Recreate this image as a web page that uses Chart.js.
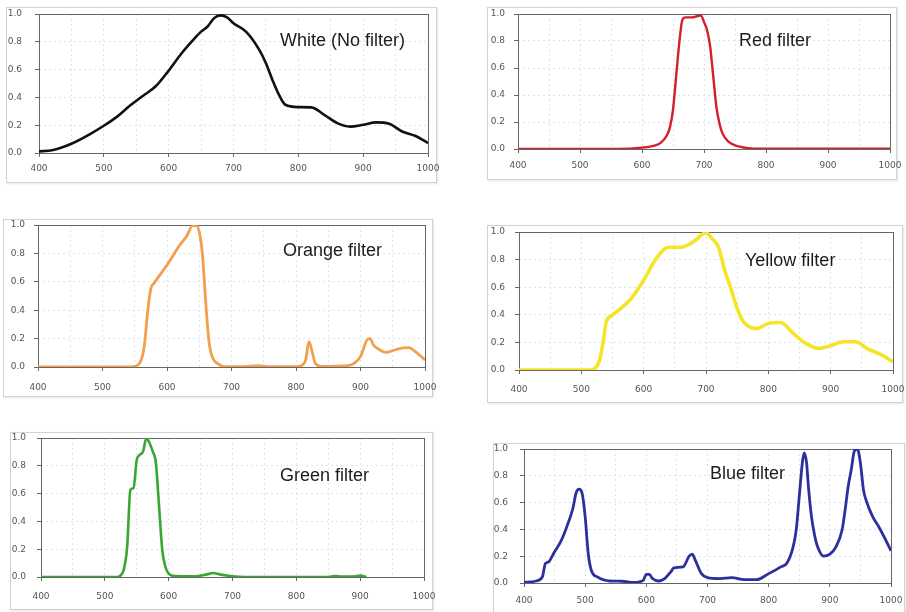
<!DOCTYPE html>
<html>
<head>
<meta charset="utf-8">
<script src="https://cdn.jsdelivr.net/npm/chart.js@4.4.1/dist/chart.umd.min.js"></script>
<style>
  html, body { margin: 0; padding: 0; background: #fff; }
  body { width: 906px; height: 612px; position: relative; overflow: hidden; }
  .box { position: absolute; box-sizing: border-box; border: 1px solid #d2d2d2; box-shadow: 1px 1px 2px rgba(0,0,0,0.10); background: #fff; }
  canvas { position: absolute; }
  .name { position: absolute; font-family: "Liberation Sans", Arial, sans-serif; font-size: 18px; line-height: 18px; color: #1c1c1c; white-space: nowrap; }
</style>
</head>
<body>
<script>
// spectra, wavelength (nm) / relative intensity
const whiteNm  = [400,420,450,480,500,520,540,560,580,600,620,640,650,660,670,680,690,700,720,740,750,760,770,780,800,820,840,860,880,900,920,940,960,980,1000];
const whiteVal = [0.012,0.02,0.067,0.14,0.196,0.26,0.34,0.41,0.48,0.593,0.718,0.825,0.873,0.91,0.97,0.99,0.976,0.933,0.87,0.74,0.646,0.526,0.42,0.347,0.33,0.328,0.275,0.215,0.19,0.203,0.22,0.21,0.155,0.124,0.072];

const redNm  = [400,560,600,620,630,640,645,650,655,660,665,670,680,690,695,700,705,710,715,720,725,730,740,750,760,780,1000];
const redVal = [0,0,0.01,0.025,0.045,0.1,0.16,0.29,0.535,0.78,0.955,0.975,0.975,0.985,0.99,0.94,0.88,0.757,0.535,0.312,0.188,0.114,0.052,0.027,0.015,0.003,0.002];

const orangeNm  = [400,540,550,560,565,570,575,580,600,620,630,640,645,650,655,660,665,670,680,690,720,740,760,800,810,815,820,825,830,840,880,890,900,910,915,920,930,940,950,960,975,985,1000];
const orangeVal = [0,0,0.005,0.05,0.155,0.39,0.554,0.59,0.718,0.86,0.918,0.995,0.995,0.953,0.79,0.46,0.18,0.073,0.02,0.002,0.003,0.01,0.002,0.002,0.014,0.05,0.178,0.108,0.026,0.005,0.01,0.026,0.073,0.19,0.2,0.155,0.12,0.103,0.115,0.13,0.136,0.108,0.05];

const yellowNm  = [400,510,520,530,535,540,550,560,580,600,620,640,660,680,700,710,720,730,740,750,760,780,800,820,840,860,880,900,920,940,960,980,1000];
const yellowVal = [0,0,0.007,0.084,0.205,0.35,0.398,0.434,0.518,0.65,0.807,0.89,0.89,0.93,0.995,0.95,0.89,0.723,0.59,0.446,0.35,0.30,0.337,0.344,0.265,0.193,0.157,0.176,0.205,0.205,0.152,0.113,0.06];

const greenNm  = [400,520,525,530,535,540,545,550,555,560,565,570,575,580,585,590,595,600,610,640,660,670,680,700,720,850,860,870,890,900,910];
const greenVal = [0,0,0.012,0.06,0.217,0.627,0.64,0.843,0.88,0.904,1.0,0.964,0.904,0.82,0.506,0.193,0.072,0.024,0.007,0.005,0.019,0.029,0.019,0.005,0,0,0.007,0.004,0.003,0.01,0];

const blueNm  = [400,410,420,430,435,440,450,460,470,480,485,490,495,500,505,510,520,540,560,580,595,600,605,610,620,630,640,645,660,670,675,680,690,700,720,740,760,780,800,820,830,840,845,850,855,858,862,865,870,875,880,890,900,910,920,925,930,935,940,945,950,955,960,970,980,990,1000];
const blueVal = [0.005,0.008,0.015,0.045,0.145,0.157,0.233,0.308,0.42,0.558,0.67,0.70,0.67,0.495,0.22,0.095,0.045,0.015,0.013,0.005,0.02,0.065,0.065,0.033,0.015,0.033,0.083,0.113,0.12,0.2,0.215,0.17,0.07,0.04,0.033,0.04,0.025,0.025,0.07,0.12,0.15,0.27,0.395,0.645,0.895,0.97,0.895,0.72,0.495,0.358,0.27,0.2,0.215,0.27,0.395,0.545,0.72,0.845,0.983,1.0,0.895,0.695,0.608,0.495,0.42,0.333,0.24];

const xTicks = [400, 500, 600, 700, 800, 900, 1000];

// one entry per small chart: box = frame [x, y, w, h], area = plot [left, top, right, bottom]
const panels = [
  { nm: whiteNm,  val: whiteVal,  color: '#111111', width: 2.6, label: 'White (No filter)', at: [280, 31],
    box: [6, 7, 431, 176],   area: [39, 14, 428, 153], xGap: 16, yGap: 17 },
  { nm: redNm,    val: redVal,    color: '#d3202c', width: 2.4, label: 'Red filter',        at: [739, 31],
    box: [487, 7, 410, 173], area: [518, 14, 890, 149], xGap: 17, yGap: 13 },
  { nm: orangeNm, val: orangeVal, color: '#f2a04e', width: 2.8, label: 'Orange filter',     at: [283, 241],
    box: [3, 219, 430, 178], area: [38, 225, 425, 367], xGap: 21, yGap: 13 },
  { nm: yellowNm, val: yellowVal, color: '#f4e42a', width: 3.6, label: 'Yellow filter',     at: [745, 251],
    box: [487, 225, 416, 178], area: [519, 232, 893, 370], xGap: 20, yGap: 14 },
  { nm: greenNm,  val: greenVal,  color: '#3aa632', width: 2.6, label: 'Green filter',      at: [280, 466],
    box: [10, 432, 423, 178], area: [41, 438, 424, 577], xGap: 20, yGap: 15 },
  { nm: blueNm,   val: blueVal,   color: '#2c2f9c', width: 2.8, label: 'Blue filter',       at: [710, 464],
    box: [493, 443, 412, 180], area: [524, 449, 891, 583], xGap: 18, yGap: 16 }
];

const tickFont = { family: 'DejaVu Sans', size: 9 };
const TICK_LEN = 4;
const GRID = '#dde3ec';
const CLEAR = 'rgba(0,0,0,0)';

// dark frame around the plot area, under the curve
const framePlugin = {
  id: 'frame',
  beforeDatasetsDraw(chart) {
    const { ctx, chartArea: a } = chart;
    ctx.save();
    ctx.strokeStyle = '#666';
    ctx.lineWidth = 1;
    ctx.strokeRect(a.left + 0.5, a.top + 0.5, a.right - a.left, a.bottom - a.top);
    ctx.restore();
  }
};

function buildPanel(p) {
  const [bx, by, bw, bh] = p.box;
  const [al, at, ar, ab] = p.area;

  const box = document.createElement('div');
  box.className = 'box';
  Object.assign(box.style, { left: bx + 'px', top: by + 'px', width: bw + 'px', height: bh + 'px' });
  document.body.appendChild(box);

  // canvas a bit wider than the frame so the end labels are not cut
  const cx = bx - 10, cy = by, cw = bw + 20, ch = bh;
  const canvas = document.createElement('canvas');
  canvas.width = cw; canvas.height = ch;
  Object.assign(canvas.style, { left: cx + 'px', top: cy + 'px', width: cw + 'px', height: ch + 'px' });
  document.body.appendChild(canvas);

  const name = document.createElement('div');
  name.className = 'name';
  name.textContent = p.label;
  Object.assign(name.style, { left: p.at[0] + 'px', top: p.at[1] + 'px' });
  document.body.appendChild(name);

  const points = p.nm.map((x, i) => ({ x: x, y: p.val[i] }));

  new Chart(canvas.getContext('2d'), {
    type: 'line',
    data: {
      datasets: [{
        data: points,
        borderColor: p.color,
        borderWidth: p.width,
        pointRadius: 0,
        fill: false,
        cubicInterpolationMode: 'monotone'
      }]
    },
    options: {
      responsive: false,
      animation: false,
      events: [],
      layout: { padding: { left: 0, top: at - cy, right: cx + cw - ar, bottom: 0 } },
      plugins: { legend: { display: false }, tooltip: { enabled: false }, title: { display: false } },
      scales: {
        x: {
          type: 'linear',
          min: 400, max: 1000,
          afterBuildTicks(s) { s.ticks = []; for (let v = 400; v <= 1000; v += 50) s.ticks.push({ value: v }); },
          afterFit(s) { s.height = cy + ch - ab; s.paddingLeft = 0; s.paddingRight = 0; },
          ticks: {
            autoSkip: false, maxRotation: 0, minRotation: 0,
            padding: p.xGap - TICK_LEN - 5.4,
            font: tickFont, color: '#555',
            callback: v => xTicks.includes(v) ? String(v) : ''
          },
          grid: {
            color: c => (c.tick && (c.tick.value === 400 || c.tick.value === 1000)) ? CLEAR : GRID,
            lineWidth: 1,
            tickLength: TICK_LEN,
            tickColor: c => (c.tick && xTicks.includes(c.tick.value)) ? '#666' : CLEAR
          },
          border: { display: false, dash: [2, 3] }
        },
        y: {
          min: 0, max: 1,
          afterBuildTicks(s) { s.ticks = [0, 0.2, 0.4, 0.6, 0.8, 1].map(v => ({ value: v })); },
          afterFit(s) { s.width = al - cx; s.paddingTop = 0; s.paddingBottom = 0; },
          ticks: {
            padding: p.yGap - TICK_LEN,
            font: tickFont, color: '#555',
            callback: v => Number(v).toFixed(1)
          },
          grid: {
            color: c => (c.tick && (c.tick.value === 0 || c.tick.value === 1)) ? CLEAR : GRID,
            lineWidth: 1,
            tickLength: TICK_LEN,
            tickColor: '#666'
          },
          border: { display: false, dash: [2, 3] }
        }
      }
    },
    plugins: [framePlugin]
  });
}

panels.forEach(buildPanel);
</script>
</body>
</html>
